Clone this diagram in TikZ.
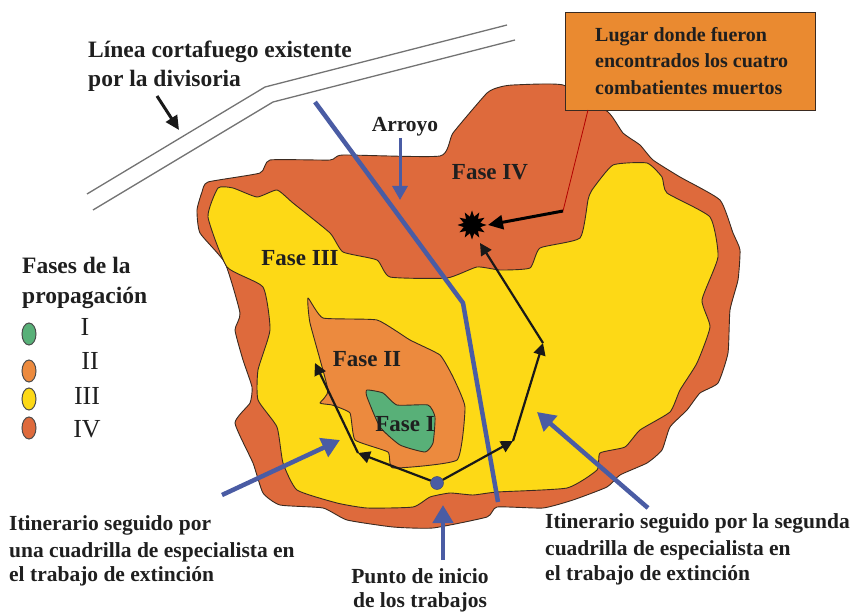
\documentclass[tikz,border=0pt]{standalone}
\usepackage{fontspec}
\setmainfont{Liberation Serif}
\usetikzlibrary{arrows.meta}
\definecolor{outerc}{HTML}{DE6A3C}
\definecolor{yellowc}{HTML}{FDD916}
\definecolor{twoc}{HTML}{EC8A3E}
\definecolor{onec}{HTML}{58B078}
\definecolor{bluec}{HTML}{4A5CA4}
\definecolor{boxc}{HTML}{EA8A30}
\definecolor{edgec}{HTML}{3A2A20}
\tikzset{
  area/.style={draw=edgec,line width=0.9pt,line join=round},
  txt/.style={inner sep=0pt,text=black!88},
  lbl/.style={txt,anchor=base west,font=\bfseries\fontsize{21.5}{21.5}\selectfont},
  lblc/.style={txt,anchor=base,font=\bfseries\fontsize{21.5}{21.5}\selectfont},
  toplbl/.style={txt,anchor=base west,font=\bfseries\fontsize{23.5}{23.5}\selectfont},
  boxlbl/.style={txt,anchor=base west,font=\bfseries\fontsize{20}{20}\selectfont},
  faselbl/.style={txt,anchor=base,font=\bfseries\fontsize{23}{23}\selectfont},
  roman/.style={txt,anchor=base,font=\fontsize{26}{26}\selectfont},
  firebreak/.style={draw=black!55,line width=1.3pt,line join=round},
  bluearrow/.style={draw=bluec,line width=4.5pt,-{Triangle[length=18pt,width=20pt]}},
  bluearrowthin/.style={draw=bluec,line width=3pt,-{Triangle[length=14pt,width=15pt]}},
  route/.style={draw=black!90,line width=2.2pt,-{Triangle[length=12pt,width=12pt]}},
}
\begin{document}
\begin{tikzpicture}[x=1pt,y=-1pt]
\useasboundingbox (0,0) rectangle (852,615);
% burnt areas
\draw[area,fill=outerc] plot[smooth cycle,tension=0.3] coordinates {
 (208,182)(260,173)(270,160)(330,160)(343,155)(440,156)(453,133)(487,93)(500,87)(513,85)(563,85)
 (608,112)(623,133)(640,145)(653,160)(680,177)(720,200)(733,233)(740,250)(738,280)(730,310)(728,353)
 (718,383)(700,393)(687,410)(670,427)(662,450)(647,463)(620,475)(607,487)(573,500)(543,508)(497,507)
 (487,517)(433,528)(393,527)(347,520)(323,508)(280,505)(263,493)(253,463)(235,423)(250,403)(252,387)
 (243,360)(235,330)(240,313)(225,263)(200,233)(197,210)(202,192)};
\draw[area,fill=yellowc] plot[smooth cycle,tension=0.3] coordinates {
 (208,217)(218,188)(233,188)(257,197)(277,190)(293,203)(330,233)(343,252)(377,260)(390,277)(447,278)
 (477,267)(500,270)(530,268)(540,248)(580,238)(588,200)(592,190)(613,165)(647,163)(662,177)(667,193)
 (710,217)(718,257)(702,300)(710,327)(697,363)(680,390)(670,412)(640,430)(625,447)(600,453)(597,470)
 (567,488)(497,492)(473,495)(450,493)(430,497)(413,507)(367,508)(337,503)(297,490)(283,463)(277,427)
 (258,400)(258,370)(270,330)(263,287)(227,267)};
\draw[area,fill=twoc] plot[smooth cycle,tension=0.25] coordinates {
 (308,298)(323,318)(377,320)(410,340)(440,355)(453,377)(465,407)(457,460)(393,468)(388,452)(355,440)
 (350,413)(332,405)(320,403)(328,390)(310,323)};
\draw[area,fill=onec] plot[smooth cycle,tension=0.3] coordinates {
 (367,390)(383,393)(397,405)(428,405)(435,417)(433,443)(425,452)(400,445)(380,427)(367,397)};
% fire break
\coordinate (fa1) at (87,194); \coordinate (fa2) at (265,87); \coordinate (fa3) at (507,25);
\coordinate (fb1) at (93,210); \coordinate (fb2) at (273,102); \coordinate (fb3) at (515,40);
\draw[firebreak] (fa1) -- (fa2) -- (fa3);
\draw[firebreak] (fb1) -- (fb2) -- (fb3);
% stream
\coordinate (s1) at (315,102); \coordinate (s2) at (463,303); \coordinate (s3) at (498,502);
\draw[draw=bluec,line width=4.5pt,line join=round] (s1) -- (s2) -- (s3);
% box
\node[draw=edgec,line width=1pt,fill=boxc,minimum width=250pt,minimum height=98pt,anchor=north west,inner sep=0pt] (box) at (565,12) {};
\node[boxlbl] (b1) at (595,42) {Lugar donde fueron};
\node[boxlbl] (b2) at (595,68) {encontrados los cuatro};
\node[boxlbl] (b3) at (595,95) {combatientes muertos};
% burst
\coordinate (burst) at (472,225);
\fill[black] plot[samples at={0,15,...,345}] ({472+(mod(\x,30)==0?14.5:8.5)*cos(\x)},{225+(mod(\x,30)==0?14.5:8.5)*sin(\x)}) -- cycle;
% callout
\coordinate (rc) at (563,211); \coordinate (bc) at (588,110);
\draw[draw=red!70!black,line width=0.8pt] (bc) -- (rc);
\coordinate (rt) at (488,225);
\draw[draw=black,line width=3pt,-{Triangle[length=15pt,width=14pt]}] (rc) -- (rt);
% routes
\node[circle,fill=bluec,draw=bluec!70!black,minimum size=13pt,inner sep=0pt] (start) at (437,483) {};
\coordinate (r1a) at (358,453); \coordinate (r1b) at (315,363);
\draw[route] (start) -- (r1a);
\draw[route] (r1a) -- (r1b);
\coordinate (r2a) at (513,441); \coordinate (r2b) at (543,343); \coordinate (r2c) at (480,243);
\draw[route] (start) -- (r2a);
\draw[route] (r2a) -- (r2b);
\draw[route] (r2b) -- (r2c);
% labels on map
\node[faselbl] (f4) at (490,180) {Fase IV};
\node[faselbl] (f3) at (300,265) {Fase III};
\node[faselbl] (f2) at (367,366) {Fase II};
\node[faselbl] (f1) at (405,431) {Fase I};
% arrows
\node[lblc] (arr) at (405,132) {Arroyo};
\coordinate (arrA) at (400,138); \coordinate (arrB) at (400,200);
\draw[bluearrowthin] (arrA) -- (arrB);
\coordinate (l1) at (222,495); \coordinate (l2) at (340,440);
\draw[bluearrow] (l1) -- (l2);
\coordinate (m1) at (648,508); \coordinate (m2) at (537,412);
\draw[bluearrow] (m1) -- (m2);
\coordinate (n1) at (443,560); \coordinate (n2) at (443,505);
\draw[bluearrow] (n1) -- (n2);
\coordinate (k1) at (157,96); \coordinate (k2) at (179,130);
\draw[draw=black!90,line width=3pt,-{Triangle[length=14pt,width=13pt]}] (k1) -- (k2);
% text
\node[toplbl] (t1) at (88,58) {Línea cortafuego existente};
\node[toplbl] (t2) at (88,87) {por la divisoria};
\node[toplbl] (p1) at (22,273) {Fases de la};
\node[toplbl] (p2) at (22,303) {propagación};
\node[roman] (rI) at (85,335) {I};
\node[roman] (rII) at (90,369) {II};
\node[roman] (rIII) at (87,404) {III};
\node[roman] (rIV) at (87,437) {IV};
\node[lbl] (i1) at (9,530) {Itinerario seguido por};
\node[lbl] (i2) at (9,557) {una cuadrilla de especialista en};
\node[lbl] (i3) at (9,581) {el trabajo de extinción};
\node[lbl] (j1) at (545,528) {Itinerario seguido por la segunda};
\node[lbl] (j2) at (545,555) {cuadrilla de especialista en};
\node[lbl] (j3) at (545,580) {el trabajo de extinción};
\node[lblc] (c1) at (420,583) {Punto de inicio};
\node[lblc] (c2) at (420,607) {de los trabajos};
% legend dots
\fill[onec,draw=black!70,line width=1pt] (29,334) ellipse [x radius=7,y radius=11];
\fill[twoc,draw=black!70,line width=1pt] (29,371) ellipse [x radius=7,y radius=11];
\fill[yellowc,draw=black!70,line width=1pt] (29,399) ellipse [x radius=7,y radius=11];
\fill[outerc,draw=black!70,line width=1pt] (29,428) ellipse [x radius=7,y radius=11];
\end{tikzpicture}
\end{document}
